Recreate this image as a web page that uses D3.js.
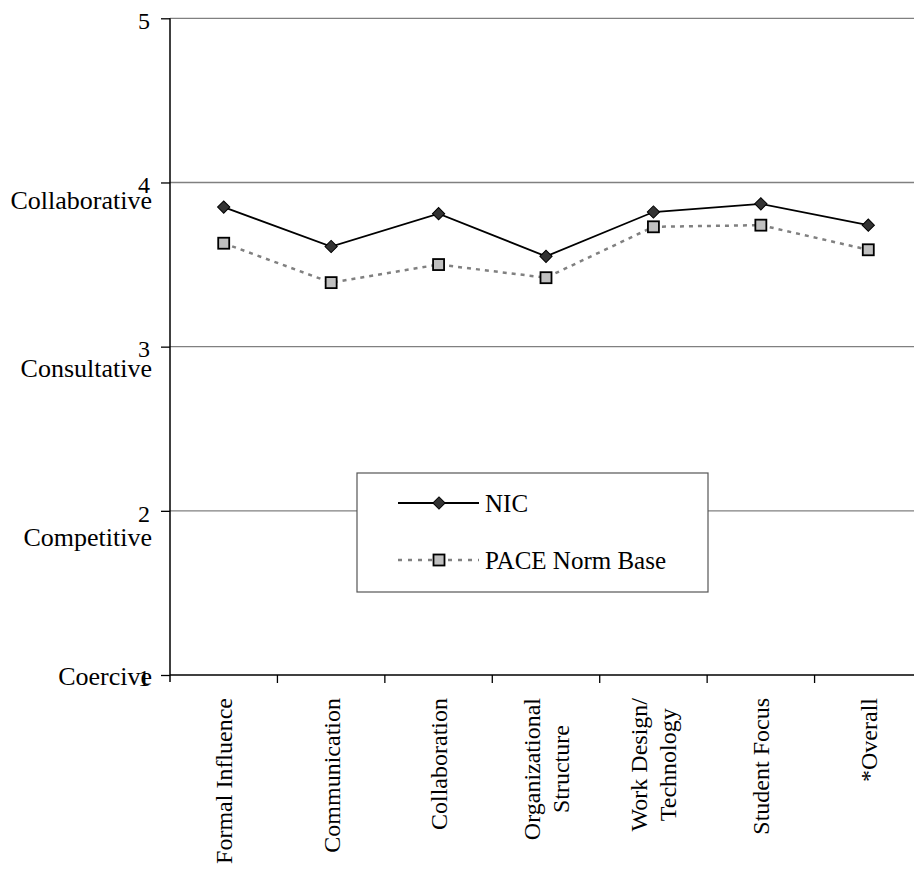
<!DOCTYPE html>
<html>
<head>
<meta charset="utf-8">
<script src="https://cdn.jsdelivr.net/npm/d3@7"></script>
<style>
  html, body { margin: 0; padding: 0; background: #fff; }
  svg { display: block; }
  text { font-family: "Liberation Serif", "Times New Roman", serif; fill: #000; }
</style>
</head>
<body>
<svg id="chart" width="914" height="873"></svg>
<script>
// ---- data ----
const categories = [
  ["Formal Influence"],
  ["Communication"],
  ["Collaboration"],
  ["Organizational", "Structure"],
  ["Work Design/", "Technology"],
  ["Student Focus"],
  ["*Overall"]
];
const nicValues  = [3.85, 3.61, 3.81, 3.55, 3.82, 3.87, 3.74];
const paceValues = [3.63, 3.39, 3.50, 3.42, 3.73, 3.74, 3.59];
const seriesNames = ["NIC", "PACE Norm Base"];
const yTicks = [1, 2, 3, 4, 5];
const yCaptions = ["Coercive", "Competitive", "Consultative", "Collaborative"]; // for ticks 1..4

(function () {
// ---- layout ----
const svg = d3.select("#chart");
const pLeft = 170, pRight = 922, pTop = 18.3, pBottom = 675;

const x = d3.scaleBand().domain(d3.range(categories.length)).range([pLeft, pRight]).padding(0);
const y = d3.scaleLinear().domain([1, 5]).range([pBottom, pTop]);

// gridlines
svg.append("g").selectAll("line")
  .data(yTicks.filter(t => t > 1))
  .join("line")
  .attr("x1", pLeft).attr("x2", 914)
  .attr("y1", d => y(d)).attr("y2", d => y(d))
  .attr("stroke", "#808080").attr("stroke-width", 1.3);

// y axis
const yAxis = svg.append("g")
  .attr("transform", `translate(${pLeft},0)`)
  .call(d3.axisLeft(y).tickValues(yTicks).tickFormat(d3.format("d")).tickSize(9).tickSizeOuter(0));
yAxis.select(".domain").remove();
yAxis.selectAll(".tick line").attr("stroke", "#000").attr("stroke-width", 1.3);
yAxis.selectAll(".tick text")
  .attr("x", -20).attr("dy", "0.43em")
  .style("font-size", "24px")
  .style("font-family", '"Liberation Serif", "Times New Roman", serif');
svg.append("line").attr("x1", pLeft).attr("x2", pLeft)
  .attr("y1", pTop).attr("y2", pBottom + 7)
  .attr("stroke", "#000").attr("stroke-width", 1.5);

// y captions
const capOffsets = [10, 35, 30, 27];
svg.append("g").selectAll("text")
  .data(yCaptions)
  .join("text")
  .attr("x", 152)
  .attr("y", (d, i) => y(yTicks[i]) + capOffsets[i])
  .attr("text-anchor", "end")
  .style("font-size", "26px")
  .text(d => d);

// x axis
const xAxis = svg.append("g")
  .attr("transform", `translate(0,${pBottom})`)
  .call(d3.axisBottom(x).tickValues([]).tickSizeOuter(0));
xAxis.select(".domain").remove();
svg.append("line").attr("x1", pLeft).attr("x2", 914)
  .attr("y1", pBottom).attr("y2", pBottom)
  .attr("stroke", "#000").attr("stroke-width", 1.6);
svg.append("g").selectAll("line")
  .data(d3.range(1, categories.length))
  .join("line")
  .attr("x1", d => x(d)).attr("x2", d => x(d))
  .attr("y1", pBottom).attr("y2", pBottom + 8)
  .attr("stroke", "#000").attr("stroke-width", 1.3);

// x labels (rotated)
const labelTop = 698;
const fsX = 24;
const lh = 29;
categories.forEach((lines, i) => {
  const cx = x(i) + x.bandwidth() / 2;
  const g = svg.append("g");
  const texts = lines.map((ln, j) => {
    const off = (j - (lines.length - 1) / 2) * lh;
    return g.append("text")
      .attr("text-anchor", "middle")
      .attr("dy", "0.35em")
      .style("font-size", fsX + "px")
      .attr("data-off", off)
      .text(ln);
  });
  const maxLen = d3.max(texts, t => t.node().getComputedTextLength());
  const cy = labelTop + maxLen / 2;
  texts.forEach(t => {
    const off = +t.attr("data-off");
    t.attr("transform", `translate(${cx + off},${cy}) rotate(-90)`);
  });
});

// lines
const lineGen = d3.line()
  .x((d, i) => x(i) + x.bandwidth() / 2)
  .y(d => y(d));

svg.append("path").datum(paceValues)
  .attr("d", lineGen).attr("fill", "none")
  .attr("stroke", "#808080").attr("stroke-width", 2.5)
  .attr("stroke-dasharray", "4,5");

svg.append("path").datum(nicValues)
  .attr("d", lineGen).attr("fill", "none")
  .attr("stroke", "#000").attr("stroke-width", 1.8);

const diamond = d3.symbol().type(d3.symbolSquare).size(75);
function drawDiamond(sel, cx, cy) {
  sel.append("path").attr("d", diamond())
    .attr("transform", `translate(${cx},${cy}) rotate(45)`)
    .attr("fill", "#333").attr("stroke", "#000").attr("stroke-width", 1);
}
function drawSquare(sel, cx, cy) {
  sel.append("rect").attr("x", cx - 5.5).attr("y", cy - 5.5)
    .attr("width", 11).attr("height", 11)
    .attr("fill", "#c0c0c0").attr("stroke", "#000").attr("stroke-width", 1.8);
}

const mk = svg.append("g");
paceValues.forEach((v, i) => drawSquare(mk, x(i) + x.bandwidth() / 2, y(v)));
nicValues.forEach((v, i) => drawDiamond(mk, x(i) + x.bandwidth() / 2, y(v)));

// legend
const lg = svg.append("g");
lg.append("rect").attr("x", 357).attr("y", 473).attr("width", 351).attr("height", 119)
  .attr("fill", "#fff").attr("stroke", "#555").attr("stroke-width", 1.2);
lg.append("line").attr("x1", 398).attr("x2", 479).attr("y1", 503).attr("y2", 503)
  .attr("stroke", "#000").attr("stroke-width", 1.8);
drawDiamond(lg, 439, 503);
lg.append("text").attr("x", 485).attr("y", 512).style("font-size", "25px").text(seriesNames[0]);
lg.append("line").attr("x1", 398).attr("x2", 479).attr("y1", 560).attr("y2", 560)
  .attr("stroke", "#808080").attr("stroke-width", 2.5).attr("stroke-dasharray", "4,6");
drawSquare(lg, 439, 560);
lg.append("text").attr("x", 485).attr("y", 569).style("font-size", "25px").text(seriesNames[1]);
})();
</script>
</body>
</html>
